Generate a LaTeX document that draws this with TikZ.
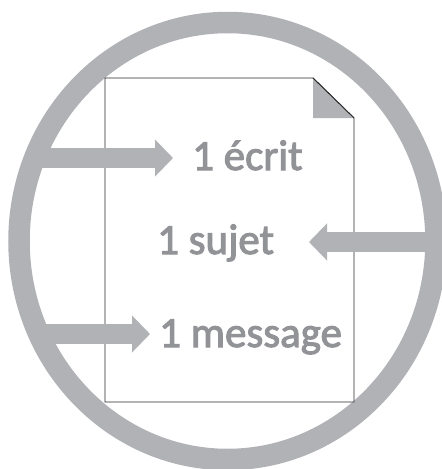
\documentclass[tikz,border=0pt]{standalone}
\usepackage{fontspec}
\setmainfont{Carlito}
\usetikzlibrary{arrows.meta}
\definecolor{ringgray}{RGB}{177,178,182}
\definecolor{textgray}{RGB}{146,147,151}
\definecolor{edgegray}{RGB}{40,40,42}
\tikzset{
  ring/.style={draw=ringgray, line width=21.5pt},
  bigarrow/.style={draw=ringgray, line width=19.5pt,
    -{Triangle[width=36pt,length=18pt]}, color=ringgray},
  label/.style={anchor=base west, inner sep=0pt, text=textgray,
    font=\fontsize{43}{43}\selectfont\addfontfeature{FakeBold=2.4}},
  sheet/.style={draw=edgegray, line width=0.9pt, fill=white},
  fold/.style={fill=ringgray}
}
\begin{document}
\begin{tikzpicture}[x=1pt, y=-1pt]
  \useasboundingbox (0,0) rectangle (442,469);
  \clip (0,0) rectangle (442,469);

  % outer ring
  \draw[ring] (227.5,241) ellipse [x radius=208.5pt, y radius=218.5pt];

  % sheet of paper with a folded corner
  \draw[sheet] (105,78) -- (313,78) -- (354,118) -- (354,402) -- (105,402) -- cycle;
  \fill[fold] (313,78) -- (313,118) -- (354,118) -- cycle;
  \draw[draw=edgegray, line width=0.9pt] (313,78) -- (354,118);

  % labels
  \node[label] (ecrit)   at (192,170) {1 écrit};
  \node[label] (sujet)   at (157,254) {1 sujet};
  \node[label] (message) at (159,347) {1 message};

  % arrow ends (the free ends sit on the ring)
  \coordinate (fromA) at (35,158);
  \coordinate (tipA)  at (173,158);
  \coordinate (fromB) at (436,242);
  \coordinate (tipB)  at (309,242);
  \coordinate (fromC) at (39,334);
  \coordinate (tipC)  at (150,334);

  \draw[bigarrow] (fromA) -- (tipA);
  \draw[bigarrow] (fromB) -- (tipB);
  \draw[bigarrow] (fromC) -- (tipC);
\end{tikzpicture}
\end{document}
